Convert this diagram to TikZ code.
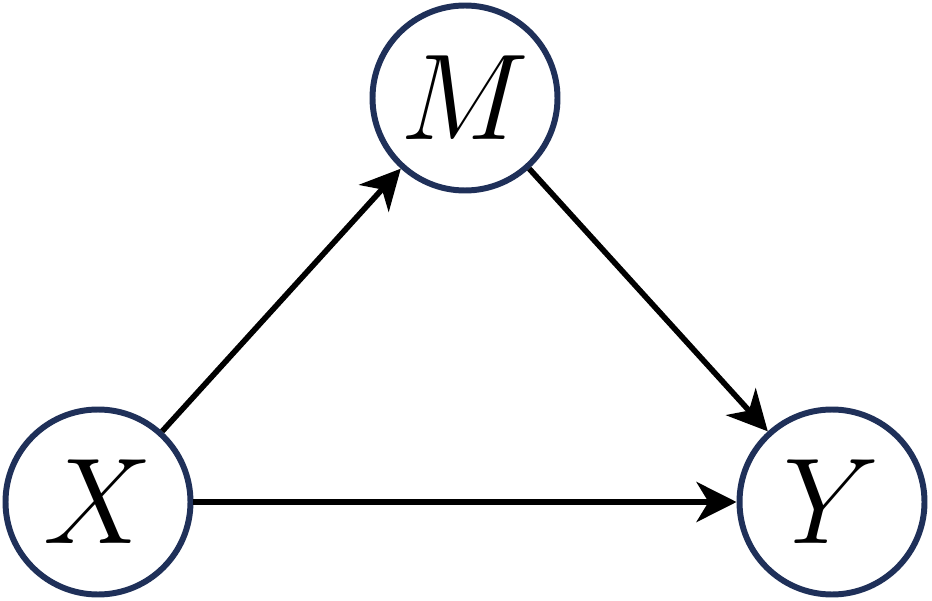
\documentclass[tikz,border=0pt]{standalone}
\usepackage{graphicx}
\usetikzlibrary{arrows.meta}
\definecolor{navyblue}{rgb}{0.12, 0.19, 0.35}
\newcommand{\bigvar}[1]{\scalebox{1.4}{\Huge $#1$}}

\begin{document}
\begin{tikzpicture}[var/.style={draw=navyblue,line width=1.7pt,circle,inner sep=0pt,minimum size=1.85cm},
	path/.style={line width=1.6pt,-{Stealth[length=0.4cm,width=0.4cm,inset=0.12cm]}}]
\useasboundingbox (0,0) rectangle (9.32,6);
%================================================================
%	Variables
\node[var] (x) at (0.98,0.98) {\bigvar{X}};
\node[var] (m) at (4.65,5.02) {\bigvar{M}};
\node[var] (y) at (8.32,0.98) {\bigvar{Y}};
%================================================================
%	Paths
\draw[path] (x) -- (m);
\draw[path] (m) -- (y);
\draw[path] (x) -- (y);
%================================================================
\end{tikzpicture}
\end{document}
